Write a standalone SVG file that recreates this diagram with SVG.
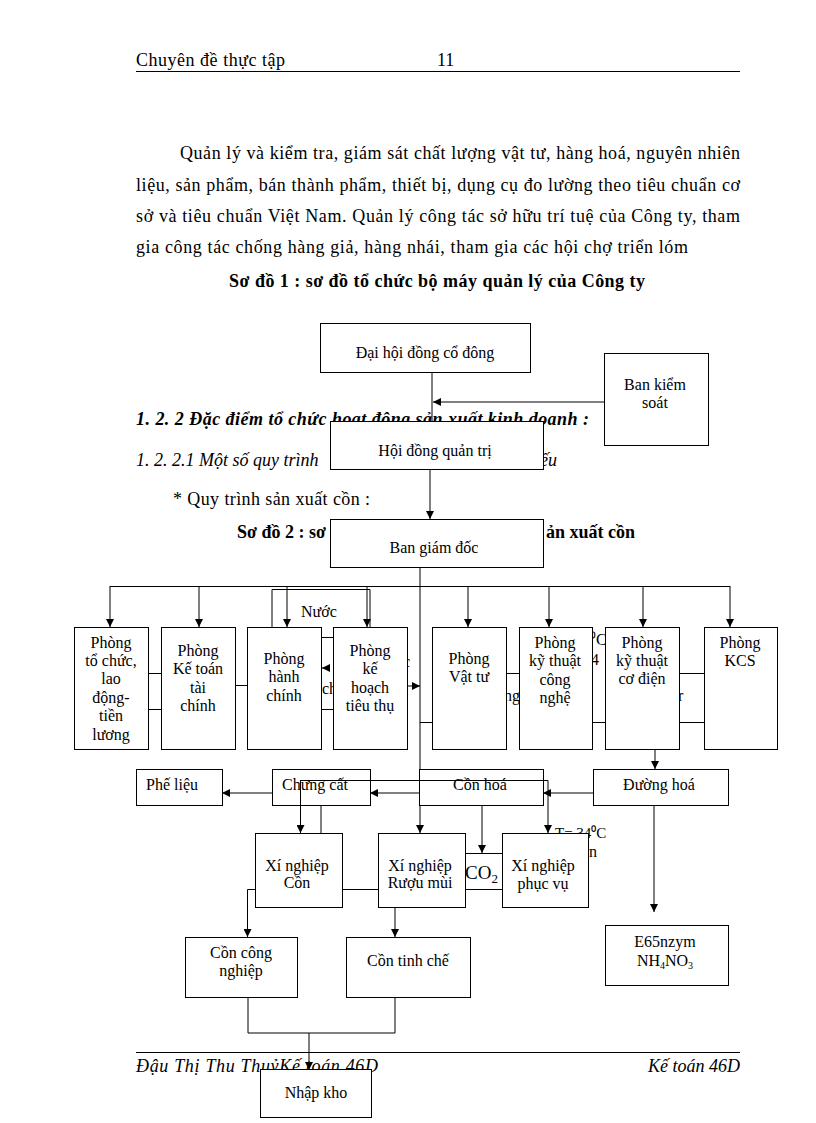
<svg xmlns="http://www.w3.org/2000/svg" width="816" height="1123" viewBox="0 0 816 1123">
<style>
text{font-family:"Liberation Serif","Times New Roman",serif;fill:#000}
.pg{font-size:18px}
.b{font-weight:bold}
.i{font-style:italic}
.n{font-size:16px;text-anchor:middle}
.f{font-size:16px}
.box{fill:#fff;stroke:#000;stroke-width:1}
.ln{fill:none;stroke:#000;stroke-width:1}
</style>
<defs>
<marker id="ah" viewBox="0 0 10 10" refX="10" refY="5" markerWidth="8" markerHeight="8" orient="auto" markerUnits="userSpaceOnUse"><path d="M0,0 L10,5 L0,10 z" fill="#000"/></marker>
</defs>
<rect width="816" height="1123" fill="#fff"/>

<g id="page">
<text class="pg" x="136" y="66" textLength="149">Chuyên đề thực tập</text>
<text class="pg" x="437" y="66">11</text>
<path class="ln" d="M136,71.5 H740"/>
<text class="pg" x="180" y="159" textLength="560">Quản lý và kiểm tra, giám sát chất lượng vật tư, hàng hoá, nguyên nhiên</text>
<text class="pg" x="136" y="191" textLength="604">liệu, sản phẩm, bán thành phẩm, thiết bị, dụng cụ đo lường theo tiêu chuẩn cơ</text>
<text class="pg" x="136" y="222" textLength="604">sở và tiêu chuẩn Việt Nam. Quản lý công tác sở hữu trí tuệ của Công ty, tham</text>
<text class="pg" x="136" y="253" textLength="552">gia công tác chống hàng giả, hàng nhái, tham gia các hội chợ triển lóm</text>
<text class="pg b" x="229" y="287" font-size="17" textLength="416">Sơ đồ 1 : sơ đồ tổ chức bộ máy quản lý của Công ty</text>
<text class="pg b i" x="136" y="425" textLength="453">1. 2. 2 Đặc điểm tổ chức hoạt động sản xuất kinh doanh :</text>
<text class="pg i" x="136" y="466">1. 2. 2.1 Một số quy trình</text>
<text class="pg i" x="540" y="466">ếu</text>
<text class="pg" x="173" y="505" textLength="197">* Quy trình sản xuất cồn :</text>
<text class="pg b" x="237" y="538">Sơ đồ 2 : sơ</text>
<text class="pg b" x="635" y="538" text-anchor="end">ản xuất cồn</text>
<path class="ln" d="M136,1052.5 H740"/>
<text class="pg i" x="136" y="1072" textLength="242">Đậu Thị Thu ThuỷKế toán 46D</text>
<text class="pg i" x="740" y="1072" text-anchor="end">Kế toán 46D</text>
</g>

<g id="fragments">
<text class="f" x="301" y="617">Nước</text>
<text class="f" x="322" y="694">ch</text>
<text class="f" x="403" y="667">c</text>
<text class="f" x="504" y="701">ng</text>
<text class="f" x="590" y="645">⁰C</text>
<text class="f" x="591" y="665">4</text>
<text class="f" x="678" y="701">r</text>
<text x="555" y="838" font-size="15">T= 34⁰C</text>
<text class="f" x="589" y="857">n</text>
</g>

<g id="connectors">
<path class="ln" d="M432,372 V421"/>
<path class="ln" d="M604,402 H433" marker-end="url(#ah)"/>
<path class="ln" d="M430,469 V519" marker-end="url(#ah)"/>
<path class="ln" d="M420,567 V833" marker-end="url(#ah)"/>
<path class="ln" d="M110,586.5 H730"/>
<path class="ln" d="M110,586 V627" marker-end="url(#ah)"/>
<path class="ln" d="M199,586 V627" marker-end="url(#ah)"/>
<path class="ln" d="M287,586 V627" marker-end="url(#ah)"/>
<path class="ln" d="M367,586 V627" marker-end="url(#ah)"/>
<path class="ln" d="M468,586 V627" marker-end="url(#ah)"/>
<path class="ln" d="M549,586 V627" marker-end="url(#ah)"/>
<path class="ln" d="M643,586 V627" marker-end="url(#ah)"/>
<path class="ln" d="M730,586 V627" marker-end="url(#ah)"/>
<path class="ln" d="M272,627 V589.5 H370 V627"/>
<path class="ln" d="M148,673.5 H161 M148,709.5 H161 M235,685.5 H247 M321,637.5 H333 M321,709.5 H333 M420,722.5 H432 M506,673.5 H519 M592,722.5 H605 M679,673.5 H704 M679,722.5 H704"/>
<path class="ln" d="M329,668 H322" marker-end="url(#ah)"/>
<path class="ln" d="M407,686 H420" marker-end="url(#ah)"/>
<path class="ln" d="M655,749 V769" marker-end="url(#ah)"/>
<path class="ln" d="M272,793 H222" marker-end="url(#ah)"/>
<path class="ln" d="M420,793 H370" marker-end="url(#ah)"/>
<path class="ln" d="M593,793 H543" marker-end="url(#ah)"/>
<path class="ln" d="M321,805 V833"/>
<path class="ln" d="M482,805 V853" marker-end="url(#ah)"/>
<path class="ln" d="M342,889.5 H378 M465,853.5 H502 M465,889.5 H502"/>
<path class="ln" d="M654,805 V912" marker-end="url(#ah)"/>
<path class="ln" d="M255,889.5 H247.5 V937" marker-end="url(#ah)"/>
<path class="ln" d="M395,907 V937" marker-end="url(#ah)"/>
<path class="ln" d="M248,997 V1033 H395 V997"/>
<path class="ln" d="M309,1033 V1070" marker-end="url(#ah)"/>
</g>

<g id="n-daihoi"><rect class="box" x="320.5" y="323.5" width="210" height="49"/><text class="n" x="425" y="358">Đại hội đồng cổ đông</text></g>
<g id="n-bankiemsoat"><rect class="box" x="604.5" y="353.5" width="104" height="92"/><text class="n" x="655" y="390">Ban kiểm</text><text class="n" x="655" y="408">soát</text></g>
<g id="n-hoidong"><rect class="box" x="330.5" y="421.5" width="213" height="48"/><text class="n" x="435" y="456">Hội đồng quản trị</text></g>
<g id="n-bangiamdoc"><rect class="box" x="330.5" y="519.5" width="213" height="48"/><text class="n" x="434" y="553">Ban giám  đốc</text></g>

<g id="n-p1"><rect class="box" x="74.5" y="627.5" width="74" height="122"/><text class="n" x="111" y="648">Phòng</text><text class="n" x="111" y="666">tổ chức,</text><text class="n" x="111" y="684">lao</text><text class="n" x="111" y="703">động-</text><text class="n" x="111" y="721">tiền</text><text class="n" x="111" y="740">lương</text></g>
<g id="n-p2"><rect class="box" x="161.5" y="627.5" width="74" height="122"/><text class="n" x="198" y="656">Phòng</text><text class="n" x="198" y="674">Kế toán</text><text class="n" x="198" y="693">tài</text><text class="n" x="198" y="711">chính</text></g>
<g id="n-p3"><rect class="box" x="247.5" y="627.5" width="74" height="122"/><text class="n" x="284" y="664">Phòng</text><text class="n" x="284" y="682">hành</text><text class="n" x="284" y="701">chính</text></g>
<g id="n-p4"><rect class="box" x="333.5" y="627.5" width="74" height="122"/><text class="n" x="370" y="656">Phòng</text><text class="n" x="370" y="674">kế</text><text class="n" x="370" y="693">hoạch</text><text class="n" x="370" y="711">tiêu  thụ</text></g>
<g id="n-p5"><rect class="box" x="432.5" y="627.5" width="74" height="122"/><text class="n" x="469" y="664">Phòng</text><text class="n" x="469" y="682">Vật tư</text></g>
<g id="n-p6"><rect class="box" x="519.5" y="627.5" width="73" height="122"/><text class="n" x="555" y="648">Phòng</text><text class="n" x="555" y="666">kỹ thuật</text><text class="n" x="555" y="685">công</text><text class="n" x="555" y="703">nghệ</text></g>
<g id="n-p7"><rect class="box" x="605.5" y="627.5" width="74" height="122"/><text class="n" x="642" y="648">Phòng</text><text class="n" x="642" y="666">kỹ thuật</text><text class="n" x="642" y="684">cơ điện</text></g>
<g id="n-p8"><rect class="box" x="704.5" y="627.5" width="73" height="122"/><text class="n" x="740" y="648">Phòng</text><text class="n" x="740" y="666">KCS</text></g>

<g id="n-pheulieu"><rect class="box" x="136.5" y="769.5" width="86" height="36"/><text class="f" x="146" y="790">Phế liệu</text></g>
<g id="n-chungcat"><rect class="box" x="272.5" y="769.5" width="98" height="36"/></g>
<g id="n-conhoa"><rect class="box" x="419.5" y="769.5" width="124" height="36"/></g>
<g id="n-duonghoa"><rect class="box" x="593.5" y="769.5" width="135" height="36"/><text class="n" x="659" y="790">Đường  hoá</text></g>
<path class="ln" d="M300,780.5 H548 V833" marker-end="url(#ah)"/>
<path class="ln" d="M300.5,780 V833" marker-end="url(#ah)"/>
<text class="n" x="315" y="790">Chưng  cất</text>
<text class="n" x="480" y="790">Cồn hoá</text>

<g id="n-xncon"><rect class="box" x="255.5" y="833.5" width="87" height="74"/><text class="n" x="297" y="871">Xí nghiệp</text><text class="n" x="297" y="888">Cồn</text></g>
<g id="n-xnruou"><rect class="box" x="378.5" y="833.5" width="87" height="74"/><text class="n" x="420" y="871">Xí nghiệp</text><text class="n" x="420" y="888">Rượu mùi</text></g>
<g id="n-co2"><text x="465" y="879" font-size="19">CO<tspan font-size="13" dy="4">2</tspan></text></g>
<g id="n-xnphucvu"><rect class="box" x="502.5" y="833.5" width="86" height="74"/><text class="n" x="543" y="871">Xí nghiệp</text><text class="n" x="543" y="889">phục  vụ</text></g>
<g id="n-enzym"><rect class="box" x="605.5" y="925.5" width="123" height="60"/><text class="n" x="665" y="947">E65nzym</text><text class="n" x="665" y="966">NH<tspan font-size="10" dy="3">4</tspan><tspan dy="-3">NO</tspan><tspan font-size="10" dy="3">3</tspan></text></g>
<g id="n-concongnghiep"><rect class="box" x="185.5" y="937.5" width="112" height="60"/><text class="n" x="241" y="958">Cồn công</text><text class="n" x="241" y="976">nghiệp</text></g>
<g id="n-continhche"><rect class="box" x="346.5" y="937.5" width="124" height="60"/><text class="n" x="408" y="966">Cồn tinh  chế</text></g>
<g id="n-nhapkho"><rect class="box" x="260.5" y="1069.5" width="111" height="48"/><text class="n" x="316" y="1098">Nhập kho</text></g>
</svg>
